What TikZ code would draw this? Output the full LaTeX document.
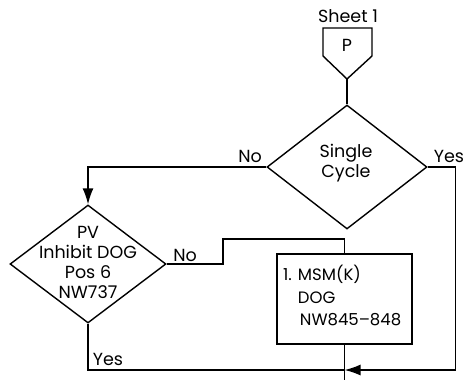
\documentclass[tikz,border=0pt]{standalone}
\usepackage{fontspec}
\setmainfont{Poppins}
\usetikzlibrary{shapes.geometric,arrows.meta,calc}
\begin{document}
\begin{tikzpicture}[x=1pt,y=-1pt,
  line/.style={line width=1.4pt,line join=miter},
  dia/.style={diamond,draw,line width=1.4pt,inner sep=0pt},
  lbl/.style={font=\fontsize{17.5}{20}\selectfont,inner sep=0pt},
  arr/.style={-{Latex[length=16pt,width=11pt]}}]
\useasboundingbox (0,0) rectangle (465,380);
% off-page connector
\node[lbl] (sheet) at (348,16) {Sheet 1};
\draw[line] (323,28) -- (372,28) -- (372,56) -- (347,79) -- (323,56) -- cycle;
\coordinate (pb) at (347,79);
\node[lbl] (p) at (347,45) {P};
% decision 1
\node[dia,minimum width=160pt,minimum height=124pt] (d1) at (347,167) {};
\node[lbl,align=center] (d1t) at (346,163) {Single\\Cycle};
\node[lbl] (no1) at (250,156) {No};
\node[lbl] (yes1) at (449,156) {Yes};
% decision 2
\node[dia,minimum width=156pt,minimum height=118pt] (d2) at (88,264) {};
\node[lbl,align=center] (d2t) at (88,262) {PV\\Inhibit DOG\\Pos 6\\NW737};
\node[lbl] (no2) at (185,255) {No};
\node[lbl] (yes2) at (108,359) {Yes};
% box
\node[draw,line width=1.4pt,minimum width=135pt,minimum height=90pt,inner sep=0pt] (box) at (344.5,299) {};
\node[lbl,font=\fontsize{16.5}{20}\selectfont,anchor=north west] (boxt) at (283,265) {\begin{tabular}{@{}l@{\hspace{6pt}}l@{}}1. & MSM(K)\\[3pt] & DOG\\[2pt] & \hspace{2pt}NW845--848\end{tabular}};
% coordinates
\coordinate (join) at (344.5,370);
\coordinate (bot) at (344.5,380);
\coordinate (step) at (223,239);
% connectors
\draw[line] (pb) -- (d1.north);
\draw[line,arr] (d1.west) -| (d2.north);
\draw[line] (d2.east) -| (step) -| (box.north);
\draw[line] (d2.south) |- (join);
\draw[line] (box.south) -- (bot);
\draw[line,arr] (d1.east) -| ($(d1.east)+(28,203)$) -- (join);
\end{tikzpicture}
\end{document}
